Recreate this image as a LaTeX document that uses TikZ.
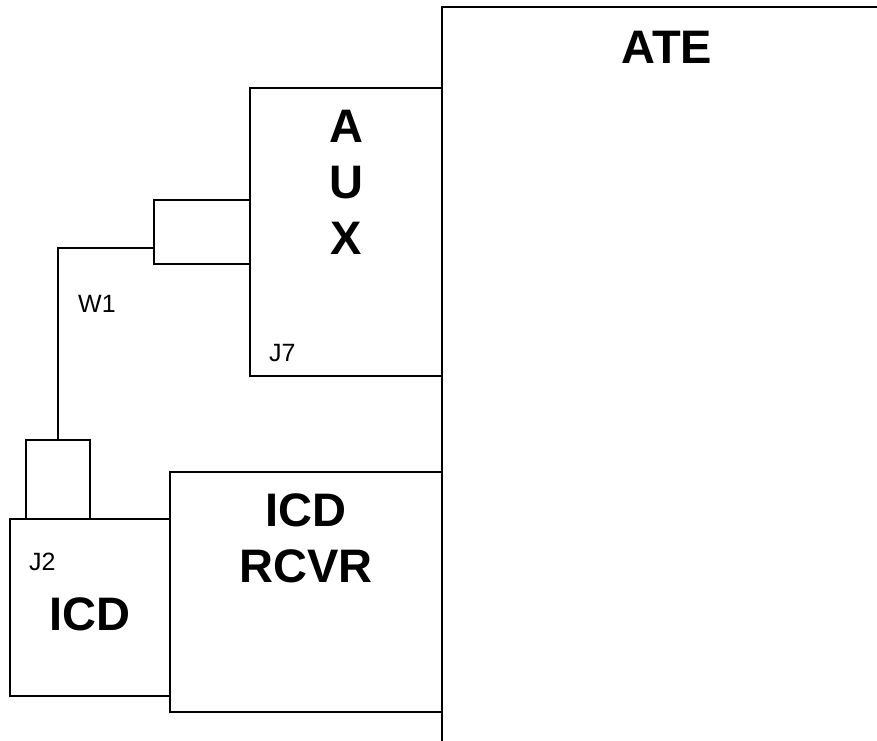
\documentclass[tikz,border=0pt]{standalone}
\usepackage{fontspec}
\setmainfont{Liberation Sans}
\begin{document}
\begin{tikzpicture}[x=1pt,y=-1pt,
  box/.style={draw,line width=1.5pt,inner sep=0pt,outer sep=0pt,anchor=north west},
  big/.style={inner sep=0pt,font=\fontsize{47}{56}\selectfont\bfseries,align=center},
  small/.style={inner sep=0pt,font=\fontsize{25}{30}\selectfont,anchor=west},
  wire/.style={line width=1.5pt}]
\useasboundingbox (0,0) rectangle (877,740);
% ATE
\coordinate (ateb) at (442,742);
\coordinate (atetl) at (442,7);
\coordinate (ater) at (879,7);
\draw[wire] (ateb) -- (atetl) -- (ater);
\node[big] (atet) at (667,47) {ATE};
% AUX
\node[box,minimum width=192pt,minimum height=288pt] (aux) at (250,88) {};
\node[big] (auxt) at (346,182) {A\\U\\X};
\node[box,minimum width=96pt,minimum height=64pt] (auxc) at (154,200) {};
\node[small] (j7) at (269,353) {J7};
% ICD
\node[box,minimum width=64pt,minimum height=79pt] (j2c) at (26,440) {};
\node[box,minimum width=160pt,minimum height=177pt] (icd) at (10,519) {};
\node[small] (j2) at (29,562) {J2};
\node[big] (icdt) at (90,614) {ICD};
% ICD RCVR
\node[box,minimum width=272pt,minimum height=240pt] (rcvr) at (170,472) {};
\node[big] (rcvrt) at (306,538.5) {ICD\\RCVR};
% wire W1
\draw[wire] ([yshift=-16pt]auxc.west) -| (j2c.north);
\node[small] (w1) at (78,304) {W1};
\end{tikzpicture}
\end{document}
